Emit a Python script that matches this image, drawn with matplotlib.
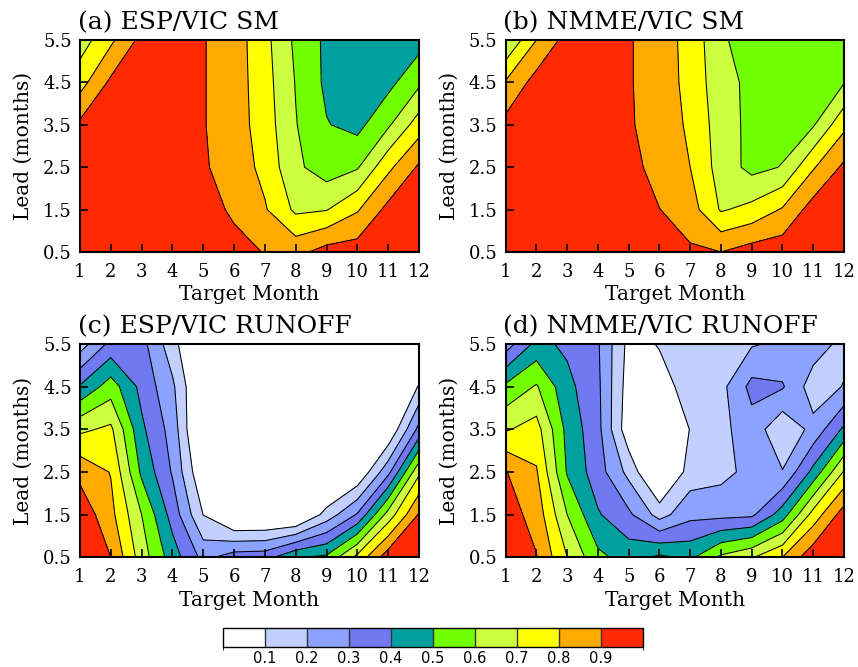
import numpy as np
import matplotlib
matplotlib.use("Agg")
import matplotlib.pyplot as plt
from matplotlib.colors import ListedColormap, BoundaryNorm

months = list(range(1, 13))
leads = [0.5, 1.5, 2.5, 3.5, 4.5, 5.5]
month_labels = [str(m) for m in months]
lead_labels = ["0.5", "1.5", "2.5", "3.5", "4.5", "5.5"]
levels = [-1.0, 0.1, 0.2, 0.3, 0.4, 0.5, 0.6, 0.7, 0.8, 0.9, 1.0]
line_levels = [0.1, 0.2, 0.3, 0.4, 0.5, 0.6, 0.7, 0.8, 0.9]
cbar_labels = ["0.1", "0.2", "0.3", "0.4", "0.5", "0.6", "0.7", "0.8", "0.9"]
colors = ["#FFFFFF", "#C2D0FF", "#8CA2FF", "#7078F2", "#00A0A0",
          "#72FF00", "#CCFF40", "#FFFF00", "#FFAA00", "#FF2A00"]

titles = ["(a) ESP/VIC SM", "(b) NMME/VIC SM",
          "(c) ESP/VIC RUNOFF", "(d) NMME/VIC RUNOFF"]

# rows: lead 0.5 .. 5.5 ; columns: target month 1 .. 12
esp_sm = [
    [0.95, 0.96, 0.96, 0.96, 0.95, 0.94, 0.895, 0.87, 0.94, 0.95, 0.96, 0.97],
    [0.95, 0.96, 0.96, 0.96, 0.95, 0.88, 0.81, 0.68, 0.695, 0.79, 0.93, 0.96],
    [0.95, 0.96, 0.96, 0.96, 0.91, 0.86, 0.77, 0.62, 0.55, 0.59, 0.776, 0.915],
    [0.92, 0.95, 0.96, 0.96, 0.905, 0.85, 0.75, 0.605, 0.505, 0.47, 0.585, 0.75],
    [0.76, 0.92, 0.95, 0.95, 0.905, 0.85, 0.74, 0.595, 0.48, 0.44, 0.47, 0.58],
    [0.65, 0.78, 0.93, 0.95, 0.905, 0.85, 0.73, 0.58, 0.48, 0.44, 0.44, 0.46],
]
nmme_sm = [
    [0.95, 0.96, 0.96, 0.96, 0.96, 0.94, 0.915, 0.90, 0.945, 0.96, 0.96, 0.97],
    [0.95, 0.96, 0.96, 0.96, 0.96, 0.902, 0.845, 0.69, 0.73, 0.81, 0.945, 0.96],
    [0.95, 0.96, 0.96, 0.96, 0.945, 0.85, 0.80, 0.657, 0.57, 0.605, 0.79, 0.92],
    [0.93, 0.95, 0.96, 0.96, 0.91, 0.86, 0.782, 0.65, 0.572, 0.56, 0.59, 0.775],
    [0.81, 0.94, 0.95, 0.95, 0.91, 0.843, 0.775, 0.63, 0.58, 0.56, 0.56, 0.595],
    [0.60, 0.80, 0.94, 0.95, 0.91, 0.843, 0.77, 0.614, 0.556, 0.56, 0.56, 0.57],
]
esp_ro = [
    [0.98, 0.90, 0.65, 0.45, 0.27, 0.35, 0.36, 0.49, 0.52, 0.73, 0.96, 0.97],
    [0.97, 0.83, 0.60, 0.36, 0.098, -0.05, -0.05, -0.05, 0.14, 0.31, 0.64, 0.91],
    [0.87, 0.795, 0.48, 0.29, 0.0, -0.1, -0.1, -0.1, -0.1, 0.0, 0.27, 0.68],
    [0.68, 0.72, 0.42, 0.26, -0.08, -0.1, -0.1, -0.1, -0.1, -0.1, 0.0, 0.33],
    [0.41, 0.55, 0.37, 0.22, -0.05, -0.1, -0.1, -0.1, -0.1, -0.1, -0.1, 0.11],
    [0.15, 0.33, 0.335, 0.14, -0.07, -0.1, -0.1, -0.1, -0.1, -0.1, -0.15, -0.1],
]
nmme_ro = [
    [0.97, 0.905, 0.70, 0.524, 0.46, 0.52, 0.48, 0.62, 0.69, 0.80, 0.97, 0.97],
    [0.95, 0.86, 0.60, 0.41, 0.32, 0.16, 0.27, 0.27, 0.28, 0.45, 0.74, 0.95],
    [0.905, 0.81, 0.49, 0.345, 0.17, -0.06, 0.145, 0.17, 0.23, 0.205, 0.43, 0.71],
    [0.69, 0.74, 0.47, 0.33, 0.03, -0.1, 0.106, 0.17, 0.26, 0.12, 0.23, 0.42],
    [0.52, 0.61, 0.43, 0.32, 0.05, 0.07, 0.13, 0.17, 0.33, 0.31, 0.15, 0.205],
    [0.25, 0.43, 0.38, 0.31, 0.07, 0.105, 0.13, 0.15, 0.19, 0.22, 0.25, 0.17],
]
panels = [esp_sm, nmme_sm, esp_ro, nmme_ro]

plt.rcParams["font.family"] = ["DejaVu Serif"]

W, H = 858, 667
fig = plt.figure(figsize=(W / 100, H / 100), dpi=100)

def frac_rect(l, t, r, b):
    return [l / W, 1 - b / H, (r - l) / W, (b - t) / H]

rects = [frac_rect(80, 40, 419, 252), frac_rect(505.7, 40, 844, 252),
         frac_rect(80, 344, 419, 557.3), frac_rect(505.7, 344, 844, 557.3)]

cmap = ListedColormap(colors)
norm = BoundaryNorm(levels, cmap.N)
X, Y = np.meshgrid(months, leads)
cf = None
for rect, data, title in zip(rects, panels, titles):
    ax = fig.add_axes(rect)
    Z = np.array(data)
    cf = ax.contourf(X, Y, Z, levels=levels, cmap=cmap, norm=norm)
    ax.contour(X, Y, Z, levels=line_levels, colors="black", linewidths=0.75)
    ax.set_xlim(1, 12)
    ax.set_ylim(0.5, 5.5)
    ax.set_xticks(months)
    ax.set_xticklabels(month_labels)
    ax.set_yticks(leads)
    ax.set_yticklabels(lead_labels)
    ax.tick_params(direction="in", length=6, width=1.2, labelsize=13,
                   top=False, right=False)
    ax.tick_params(axis="x", pad=8)
    ax.tick_params(axis="y", pad=6)
    for s in ax.spines.values():
        s.set_linewidth(1.5)
    ax.set_xlabel("Target Month", fontsize=14.5, labelpad=3)
    ax.set_ylabel("Lead (months)", fontsize=14.5, labelpad=7)
    ax.text(-0.007, 1.025, title, transform=ax.transAxes, fontsize=18,
            ha="left", va="bottom")

cax = fig.add_axes(frac_rect(223, 628, 643, 647))
cb = fig.colorbar(cf, cax=cax, orientation="horizontal", spacing="uniform",
                  drawedges=True)
cb.set_ticks(line_levels)
cb.set_ticklabels(cbar_labels)
cb.ax.tick_params(length=0, labelsize=10.5, pad=3)
for lab in cb.ax.get_xticklabels():
    lab.set_fontfamily("DejaVu Sans")
cb.outline.set_linewidth(1.0)
cb.dividers.set_linewidth(1.0)
cb.dividers.set_color("#333333")

fig.savefig("out.png", dpi=100)
